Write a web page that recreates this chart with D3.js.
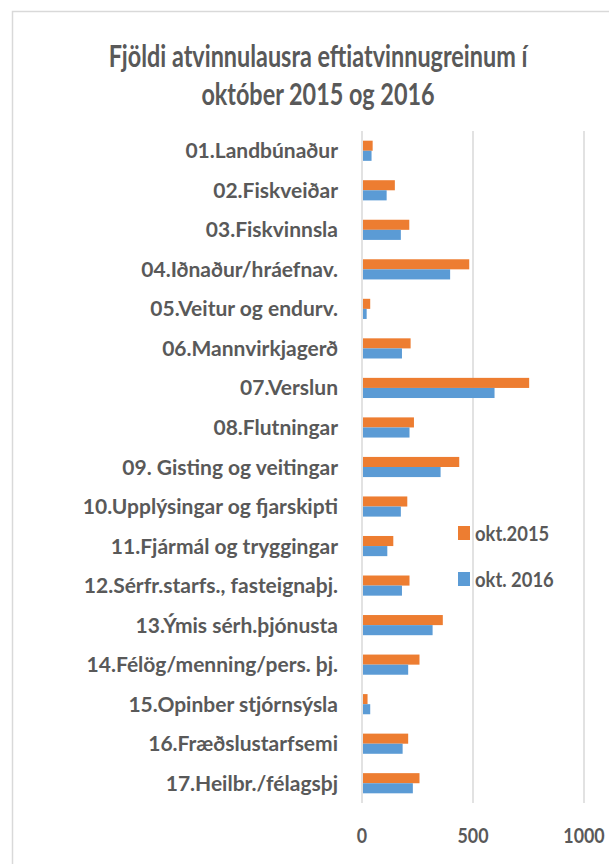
<!DOCTYPE html>
<html>
<head>
<meta charset="utf-8">
<script src="https://cdn.jsdelivr.net/npm/d3@7"></script>
<style>
  body { margin: 0; background: #fff; }
  svg text { font-family: "Lato", "Open Sans", sans-serif; font-weight: bold; fill: #595959; }
</style>
</head>
<body>
<div id="chart"></div>
<script>
// data
const categories = [
    "01.Landbúnaður", "02.Fiskveiðar", "03.Fiskvinnsla", "04.Iðnaður/hráefnav.",
    "05.Veitur og endurv.", "06.Mannvirkjagerð", "07.Verslun", "08.Flutningar",
    "09. Gisting og veitingar", "10.Upplýsingar og fjarskipti", "11.Fjármál og tryggingar",
    "12.Sérfr.starfs., fasteignaþj.", "13.Ýmis sérh.þjónusta", "14.Félög/menning/pers. þj.",
    "15.Opinber stjórnsýsla", "16.Fræðslustarfsemi", "17.Heilbr./félagsþj"
];
const okt2015 = [48, 148, 213, 483, 37, 219, 753, 234, 438, 204, 141, 214, 364, 259, 25, 208, 259];
const okt2016 = [43, 111, 175, 397, 21, 180, 597, 214, 354, 175, 114, 180, 318, 208, 37, 183, 229];
const seriesNames = ["okt.2015", "okt. 2016"];
const xTicks = [0, 500, 1000];
const titleLines = ["Fjöldi atvinnulausra eftiatvinnugreinum í", "október 2015 og 2016"];

const width = 609;
const height = 864;
const colors = ["#ED7D31", "#5B9BD5"];

const svg = d3.select("#chart").append("svg")
    .attr("width", width)
    .attr("height", height);

// chart frame (right and bottom edges fall outside the picture)
svg.append("path")
    .attr("d", `M12.5,${height} L12.5,11.5 L${width},11.5`)
    .attr("fill", "none")
    .attr("stroke", "#d9d9d9")
    .attr("stroke-width", 1.5);

// text in the reference is tall and narrow, so squeeze it sideways
function squeezedText(x, y, str, size, anchor, squeeze) {
    const g = svg.append("g").attr("transform", `translate(${x},${y}) scale(${squeeze},1)`);
    return g.append("text")
        .attr("text-anchor", anchor)
        .style("font-size", size + "px")
        .text(str);
}

// title
titleLines.forEach((t, i) => squeezedText(318, 67 + i * 38, t, 30, "middle", 0.78));

const x = d3.scaleLinear().domain([0, 1000]).range([362, 584]);
const y = d3.scaleBand().domain(categories).range([131, 803]).paddingInner(0.49).paddingOuter(0.245);
const ySub = d3.scaleBand().domain(seriesNames).range([0, y.bandwidth()]);

// gridlines
svg.append("g").selectAll("line")
    .data(xTicks)
    .enter().append("line")
    .attr("x1", d => x(d)).attr("x2", d => x(d))
    .attr("y1", 131).attr("y2", 803)
    .attr("stroke", "#d9d9d9")
    .attr("stroke-width", 1.5);

// bars
const series = [okt2015, okt2016];
series.forEach((vals, s) => {
    svg.append("g").selectAll("rect")
        .data(vals)
        .enter().append("rect")
        .attr("x", x(0) + 1)
        .attr("y", (d, i) => y(categories[i]) + ySub(seriesNames[s]))
        .attr("width", d => x(d) - x(0) - 1)
        .attr("height", ySub.bandwidth())
        .attr("fill", colors[s]);
});

// category labels
categories.forEach(c => squeezedText(338, y(c) + y.bandwidth() / 2 + 7.5, c, 21, "end", 1));

// tick labels
xTicks.forEach(t => squeezedText(x(t), 843, t, 21, "middle", 0.85));

// legend
seriesNames.forEach((name, i) => {
    const ly = 533 + i * 46;
    svg.append("rect")
        .attr("x", 458).attr("y", ly - 7)
        .attr("width", 12).attr("height", 14)
        .attr("fill", colors[i]);
    squeezedText(475, ly + 8, name, 20, "start", 0.92);
});
</script>
</body>
</html>
